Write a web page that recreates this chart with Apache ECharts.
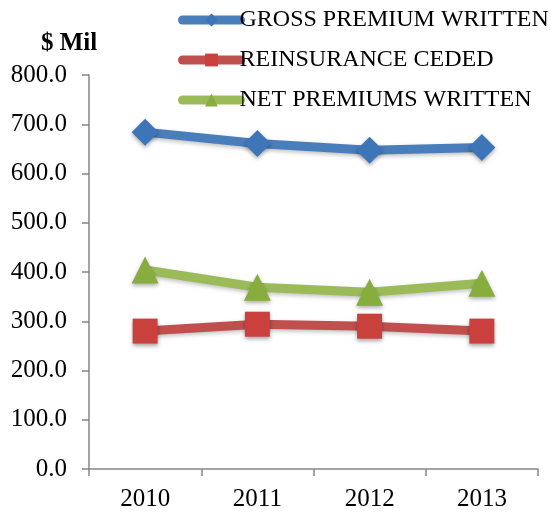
<!DOCTYPE html>
<html>
<head>
<meta charset="utf-8">
<script src="https://cdn.jsdelivr.net/npm/echarts@6/dist/echarts.min.js"></script>
<style>
  html, body { margin: 0; padding: 0; background: #fff; }
  #chart { width: 551px; height: 514px; }
</style>
</head>
<body>
<div id="chart"></div>
<script>
const years = ['2010', '2011', '2012', '2013']
const grossWritten = [684, 661, 647, 653]
const reinsCeded = [280, 294, 290, 280]
const netWritten = [404, 369, 359, 377]

const serif = '"Liberation Serif", "DejaVu Serif", serif'
const myChart = echarts.init(document.getElementById('chart'))

function lineSeries (name, data, color, markColor, symbol, size) {
  return {
    name: name,
    type: 'line',
    data: data,
    symbol: symbol,
    symbolSize: size,
    lineStyle: {
      color: color,
      width: 9,
      cap: 'round',
      shadowColor: 'rgba(0,0,0,0.25)',
      shadowBlur: 4,
      shadowOffsetY: 2
    },
    itemStyle: {
      color: markColor,
      shadowColor: 'rgba(0,0,0,0.35)',
      shadowBlur: 4,
      shadowOffsetY: 2
    },
    animation: false
  }
}

myChart.setOption({
  title: {
    text: '$ Mil',
    left: 36,
    top: 26,
    textStyle: { fontFamily: serif, fontSize: 25, fontWeight: 'bold', color: '#000' }
  },
  legend: {
    orient: 'vertical',
    left: 173,
    top: 3,
    itemWidth: 58,
    itemHeight: 16,
    itemGap: 16,
    lineStyle: { width: 9, cap: 'round' },
    textStyle: { fontFamily: serif, fontSize: 24, color: '#000', padding: [0, 0, 0, -6] },
    data: ['GROSS PREMIUM WRITTEN', 'REINSURANCE CEDED', 'NET PREMIUMS WRITTEN']
  },
  grid: {
    left: 89,
    right: 13,
    top: 75,
    bottom: 45
  },
  xAxis: {
    type: 'category',
    data: years,
    boundaryGap: true,
    axisLine: { lineStyle: { color: '#868686', width: 1.5 } },
    axisTick: { show: true, length: 7, lineStyle: { color: '#868686', width: 1.5 } },
    axisLabel: { fontFamily: serif, fontSize: 25, color: '#000', margin: 18 }
  },
  yAxis: {
    type: 'value',
    min: 0,
    max: 800,
    interval: 100,
    axisLine: { show: true, lineStyle: { color: '#868686', width: 1.5 } },
    axisTick: { show: true, length: 7, lineStyle: { color: '#868686', width: 1.5 } },
    splitLine: { show: false },
    axisLabel: {
      fontFamily: serif,
      fontSize: 25,
      color: '#000',
      margin: 22,
      formatter: function (v) { return v.toFixed(1) }
    }
  },
  series: [
    lineSeries('GROSS PREMIUM WRITTEN', grossWritten, '#4A7EBB', '#3E74B8', 'diamond', 27),
    lineSeries('REINSURANCE CEDED', reinsCeded, '#C0504D', '#C9403C', 'rect', 25),
    lineSeries('NET PREMIUMS WRITTEN', netWritten, '#9BBB59', '#86AD3E', 'triangle', 27)
  ]
})
</script>
</body>
</html>
